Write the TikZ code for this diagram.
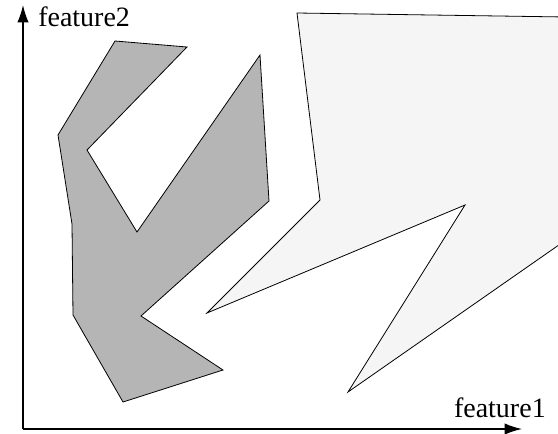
\documentclass[tikz,border=0pt]{standalone}
\usepackage{fontspec}
\setmainfont{Liberation Serif}
\usepackage{tikz}
\usetikzlibrary{arrows.meta, positioning}

\begin{document}
\begin{tikzpicture}[
        x=0.75pt, y=-0.75pt,
        axis/.style={draw, line width=1.1pt, -{Latex[length=13pt, width=8.5pt]}},
        region/.style={draw, line width=0.6pt, line join=miter},
        label/.style={font=\fontsize{21}{24}\selectfont, inner sep=0pt}
    ]
        \useasboundingbox (0,0) rectangle (558,433);
        \clip (0,0) rectangle (558,433);

        % class regions
        \path [region, fill=black!4] (297,13) -- (320,200) -- (207,313) -- (465,205) -- (348,392)
            -- (566,240) -- (566,17) -- cycle;
        \path [region, fill=black!29] (115,41) -- (187,47) -- (87,150) -- (137,232) -- (260,55)
            -- (269,201) -- (141,316) -- (223,370) -- (123,402) -- (73,315) -- (72,224)
            -- (58,135) -- cycle;

        % axes
        \coordinate (origin) at (23,429);
        \coordinate (xend) at (522,429);
        \coordinate (yend) at (23,5);
        \path [axis] (origin) -- (xend);
        \path [axis] (origin) -- (yend);
        \node [label, anchor=base west] (f2) at (38,26) {feature2};
        \node [label, anchor=base east] (f1) at (546,417) {feature1};
    \end{tikzpicture}
\end{document}
